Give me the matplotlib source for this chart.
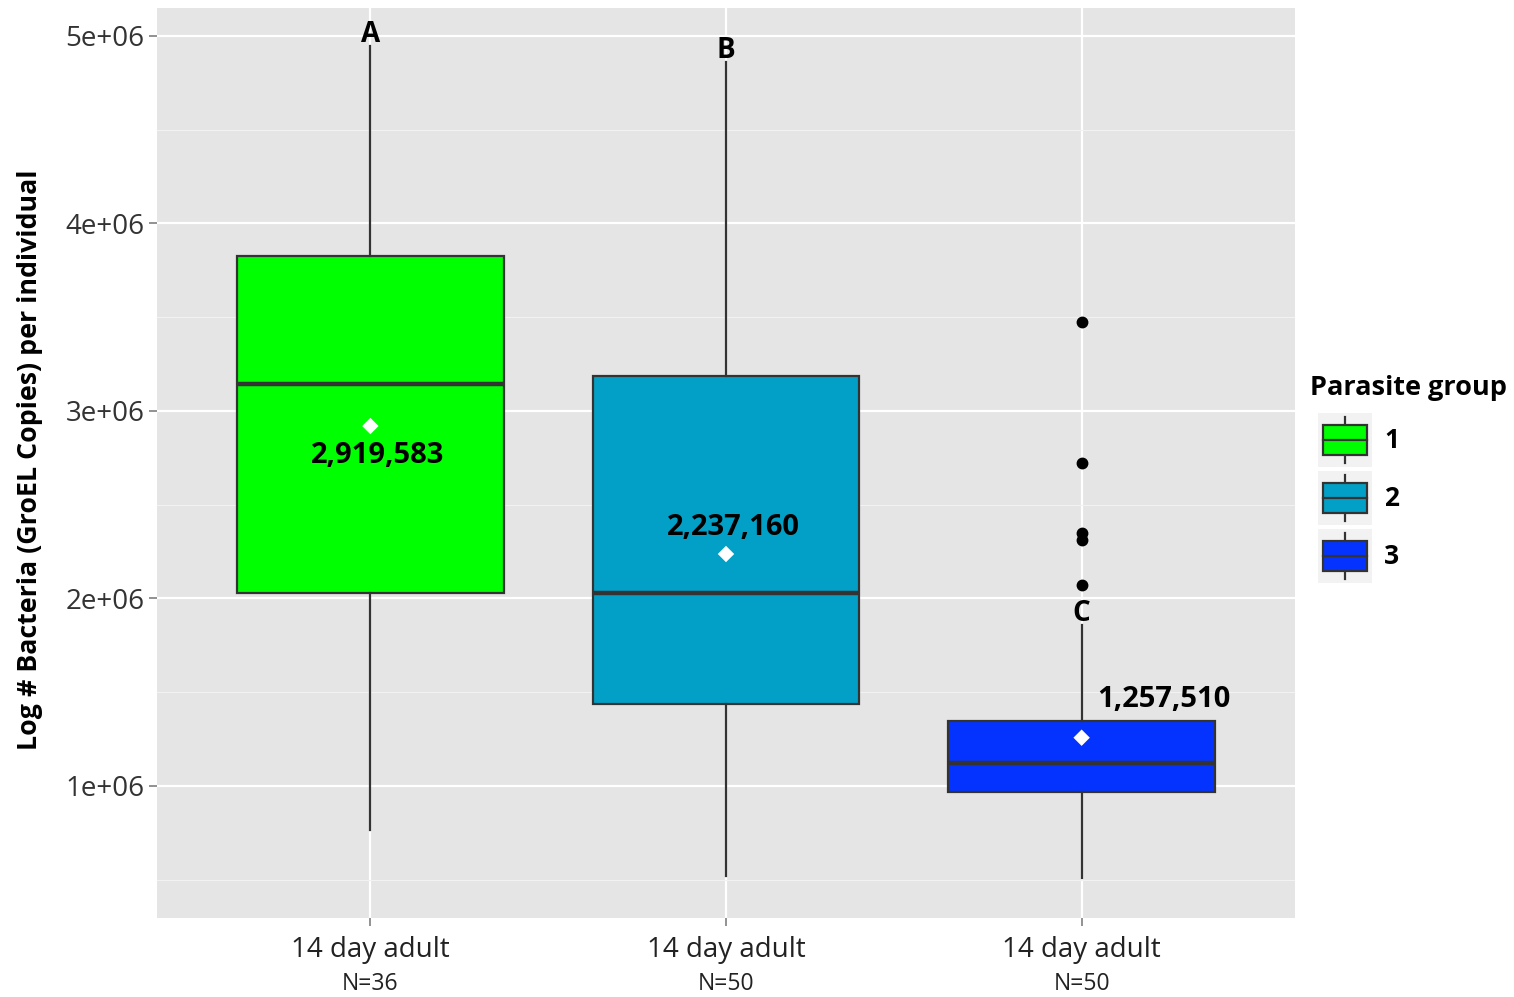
import matplotlib
matplotlib.use("Agg")
import matplotlib.pyplot as plt
from matplotlib.patches import Rectangle
from matplotlib.lines import Line2D
from matplotlib.transforms import blended_transform_factory

plt.rcParams['font.family'] = ['Open Sans', 'DejaVu Sans']

# ---- data ---------------------------------------------------------------
groups = ['1', '2', '3']
categories = ['14 day adult', '14 day adult', '14 day adult']
sample_sizes = [36, 50, 50]
colors = ['#00FF00', '#02A0C6', '#0433FF']
whisker_low = [0.765e6, 0.52e6, 0.51e6]
q1 = [2.03e6, 1.437e6, 0.968e6]
medians = [3.144e6, 2.03e6, 1.123e6]
q3 = [3.827e6, 3.187e6, 1.347e6]
whisker_high = [4.945e6, 4.86e6, 1.86e6]
means = [2919583, 2237160, 1257510]
outliers = [[], [], [3.475e6, 2.723e6, 2.349e6, 2.312e6, 2.072e6]]
letters = ['A', 'B', 'C']
# where each mean label sits: horizontal shift (category units) and height
mean_label_dx = [0.02, 0.02, 0.23]
mean_label_y = [2.76e6, 2.376e6, 1.459e6]

# ---- figure ---------------------------------------------------------------
W, H = 1514, 997
fig = plt.figure(figsize=(W / 100, H / 100), dpi=100)
fig.patch.set_facecolor('white')
ax = fig.add_axes([157 / W, 1 - 918 / H, (1295 - 157) / W, (918 - 8) / H])
ax.set_facecolor('#E5E5E5')
for s in ax.spines.values():
    s.set_visible(False)

positions = [1, 2, 3]

stats = []
for i in range(3):
    stats.append(dict(med=medians[i], q1=q1[i], q3=q3[i],
                      whislo=whisker_low[i], whishi=whisker_high[i],
                      fliers=outliers[i], mean=means[i]))

edge = '#333333'
bp = ax.bxp(stats, positions=positions, widths=0.75, patch_artist=True,
            showcaps=False, showmeans=False, manage_ticks=False,
            boxprops=dict(edgecolor=edge, linewidth=1.6),
            whiskerprops=dict(color=edge, linewidth=1.6),
            medianprops=dict(color=edge, linewidth=3.2),
            flierprops=dict(marker='o', markerfacecolor='black',
                            markeredgecolor='black', markersize=7.5))
for patch, c in zip(bp['boxes'], colors):
    patch.set_facecolor(c)
    patch.set_zorder(2)

ax.set_xlim(0.4, 3.6)
ax.set_ylim(0.296e6, 5.149e6)

# grid
major = [1e6, 2e6, 3e6, 4e6, 5e6]
minor = [0.5e6, 1.5e6, 2.5e6, 3.5e6, 4.5e6]
ax.set_yticks(major)
ax.set_yticks(minor, minor=True)
ax.set_xticks(positions)
ax.grid(True, which='major', color='white', linewidth=1.6, zorder=0)
ax.grid(True, which='minor', axis='y', color='#F2F2F2', linewidth=0.8, zorder=0)
ax.set_axisbelow(True)

# means
ax.scatter(positions, means, marker='D', s=70, color='white',
           edgecolors='none', zorder=5)
for p, m, dx, ly in zip(positions, means, mean_label_dx, mean_label_y):
    ax.text(p + dx, ly, f'{m:,}', ha='center', va='center',
            fontsize=21, fontweight='bold', color='black', zorder=6)

# significance letters
for p, wh, lab in zip(positions, whisker_high, letters):
    ax.annotate(lab, (p, wh), xytext=(0, -2.2), textcoords='offset points',
                ha='center', va='bottom', fontsize=20, fontweight='bold',
                color='black', zorder=6)

# axes labels / ticks
ax.set_yticklabels(['1e+06', '2e+06', '3e+06', '4e+06', '5e+06'],
                   fontsize=20, color='#333333')
ax.set_xticklabels(categories, fontsize=20, color='#222222')
ax.tick_params(axis='both', which='major', color='#7F7F7F', length=6,
               width=1.2, pad=3)
ax.tick_params(axis='x', which='major', pad=7)
ax.tick_params(axis='y', which='minor', length=0)
trans = blended_transform_factory(ax.transData, fig.transFigure)
for p, n in zip(positions, sample_sizes):
    ax.text(p, 1 - 984 / H, f'N={n}', transform=trans, ha='center',
            va='center', fontsize=16.5, color='#222222')

fig.text(30 / W, 1 - 460 / H, 'Log # Bacteria (GroEL Copies) per individual',
         rotation=90, ha='center', va='center', fontsize=19.3,
         fontweight='bold', color='black')

# ---- legend -------------------------------------------------------------
lg = fig.add_axes([1300 / W, 1 - 600 / H, 214 / W, 230 / H])
lg.set_xlim(1300, 1514)
lg.set_ylim(600, 370)
lg.axis('off')
lg.text(1310, 388, 'Parasite group', ha='left', va='center', fontsize=19.5,
        fontweight='bold', color='black')
key_tops = [413, 471, 529]
for g, c, top in zip(groups, colors, key_tops):
    lg.add_patch(Rectangle((1318, top), 54, 54, facecolor='#F2F2F2',
                           edgecolor='none', zorder=1))
    cx, cy = 1345, top + 27
    lg.add_line(Line2D([cx, cx], [top + 4, top + 50], color=edge, lw=1.6,
                       zorder=2))
    lg.add_patch(Rectangle((1323, cy - 15), 44, 30, facecolor=c,
                           edgecolor=edge, lw=1.6, zorder=3))
    lg.add_line(Line2D([1323, 1367], [cy, cy], color=edge, lw=1.6, zorder=4))
    lg.text(1384, cy, g, ha='left', va='center', fontsize=19,
            fontweight='bold', color='black')

fig.savefig('out.png', dpi=100, facecolor='white')
